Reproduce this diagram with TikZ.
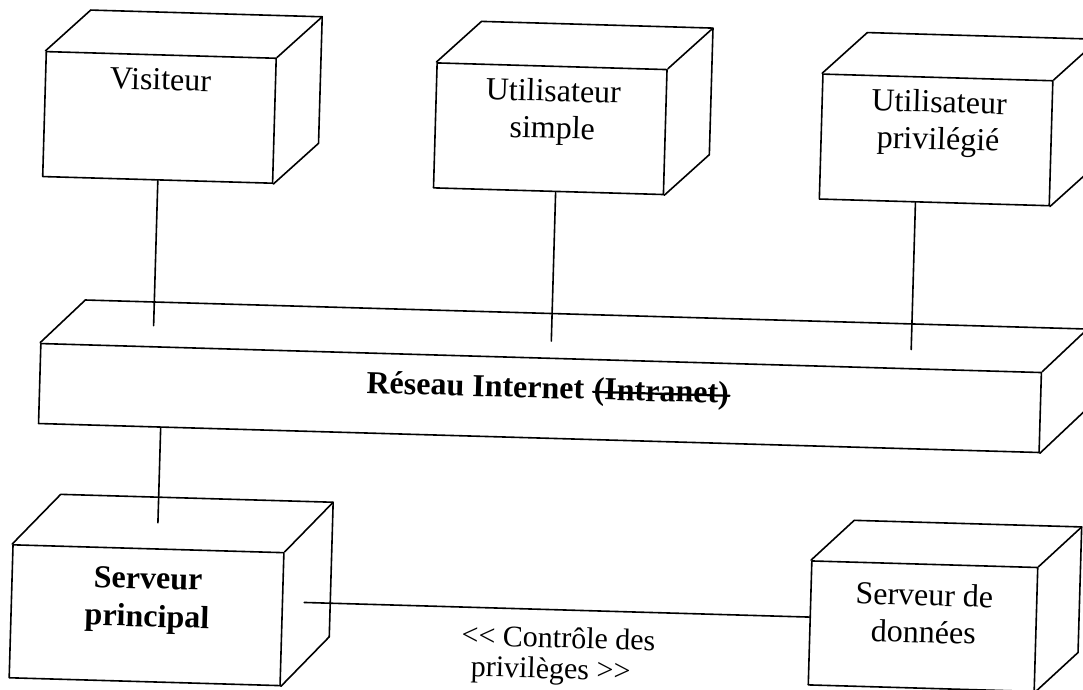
\documentclass[tikz,border=0pt]{standalone}
\usepackage{fontspec}
\setmainfont{Liberation Serif}
\newcommand\cubeface[3]{%
  \draw (#1.north west) -- ++(#2,#3) coordinate (#1-bnw);
  \draw (#1.north east) -- ++(#2,#3) coordinate (#1-bne);
  \draw (#1.south east) -- ++(#2,#3) coordinate (#1-bse);
  \draw (#1-bnw) -- (#1-bne) -- (#1-bse);
}
\begin{document}
\begin{tikzpicture}[x=1pt,y=-1pt,
  line width=1.6pt, line cap=round, line join=round,
  face/.style={draw, inner sep=0pt},
  lbl/.style={font=\fontsize{32}{37}\selectfont, inner sep=0pt, align=center},
  blbl/.style={font=\bfseries\fontsize{32}{38}\selectfont, inner sep=0pt, align=center},
  clbl/.style={font=\fontsize{30}{30}\selectfont, inner sep=0pt}]
\useasboundingbox (0,0) rectangle (1083,689);
\clip (0,0) rectangle (1083,689);
\begin{scope}[rotate around={-1.66:(540,345)}, transform shape]
  % user nodes
  \node[face, minimum width=230, minimum height=125] (vis) at (153,128.5) {};
  \node[lbl, anchor=base] (visT) at (153,101) {Visiteur};
  \cubeface{vis}{44}{-42}
  \node[face, minimum width=230, minimum height=125] (us) at (544,128.5) {};
  \node[lbl, anchor=north] (usT) at (546,78) {Utilisateur\\simple};
  \cubeface{us}{44}{-42}
  \node[face, minimum width=230, minimum height=125] (pv) at (930,128.5) {};
  \node[lbl, anchor=north] (pvT) at (932,78) {Utilisateur\\privilégié};
  \cubeface{pv}{44}{-42}
  % network
  \node[face, minimum width=1001, minimum height=80] (net) at (541.5,398) {};
  \cubeface{net}{44}{-44}
  \node[blbl, anchor=base west] (netT) at (367,398) {Réseau Internet};
  \node[blbl, anchor=base west] (intra) at ([xshift=8]netT.base east) {(Intranet)};
  \draw[line width=2.2pt] (intra.west) -- (intra.east);
  % servers
  \node[face, minimum width=271, minimum height=133] (sp) at (154.5,626.5) {};
  \node[blbl, anchor=north] (spT) at (155,578) {Serveur\\principal};
  \cubeface{sp}{47}{-51}
  \node[face, minimum width=226, minimum height=124] (sd) at (931,615) {};
  \node[lbl, anchor=north] (sdT) at (931.5,571.5) {Serveur de\\données};
  \cubeface{sd}{42}{-41}
  % connectors
  \draw (vis.south west) ++(116,0) -- ++(0,145) coordinate (visE);
  \draw (us.south west) ++(123,0) -- ++(0,149) coordinate (usE);
  \draw (pv.south west) ++(97,0) -- ++(0,147) coordinate (pvE);
  \draw (net.south west) ++(123,0) -- ++(0,95) coordinate (spE);
  \path (sd.north west) ++(0,57) coordinate (sdW);
  \draw (sp.north east) ++(21,50) -- (sdW);
  \node[clbl, anchor=base] (ctl) at (567,647) {{<}{<} Contrôle des};
  \node[clbl, anchor=base] (ctl2) at (560,678) {privilèges {>}{>}};
\end{scope}
\end{tikzpicture}
\end{document}
